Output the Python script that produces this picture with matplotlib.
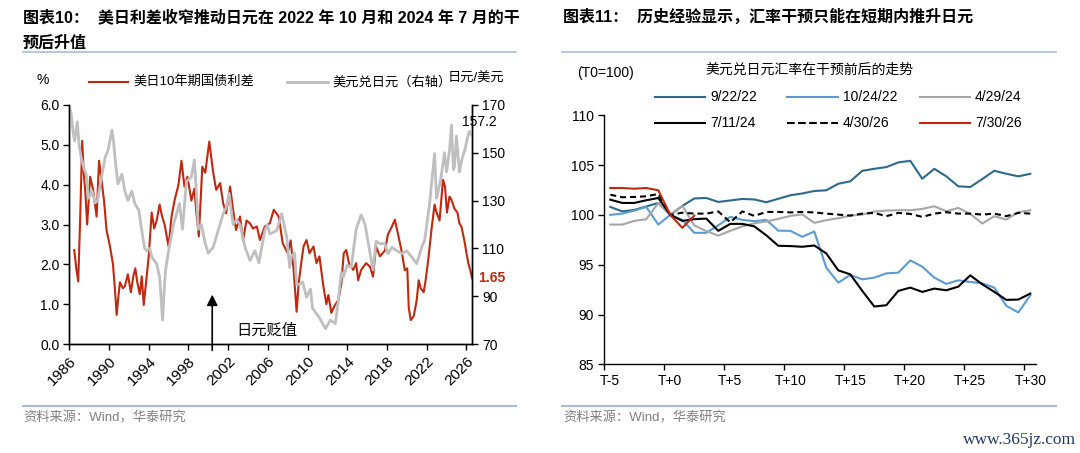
import numpy as np
import matplotlib
matplotlib.use('Agg')
import matplotlib.pyplot as plt
from matplotlib.lines import Line2D

plt.rcParams['font.family'] = ['Liberation Sans', 'Noto Sans CJK SC', 'DejaVu Sans']
plt.rcParams['axes.unicode_minus'] = False

# ---- left chart: US-JP 10y spread (%) and USDJPY (right axis)
spread_years = [1986.5, 1986.7, 1986.9, 1987.1, 1987.3, 1987.45, 1987.6, 1987.8, 1988.1, 1988.4,
                1988.75, 1989.0, 1989.25, 1989.5, 1989.75, 1990.1, 1990.4, 1990.6, 1990.77, 1990.95,
                1991.1, 1991.4, 1991.6, 1991.9, 1992.2, 1992.45, 1992.65, 1992.85, 1993.1, 1993.3,
                1993.5, 1993.75, 1994.0, 1994.3, 1994.55, 1994.8, 1995.1, 1995.35, 1995.6, 1996.0,
                1996.3, 1996.6, 1997.0, 1997.3, 1997.6, 1997.9, 1998.3, 1998.6, 1998.8, 1999.05,
                1999.4, 1999.7, 2000.1, 2000.3, 2000.5, 2000.8, 2001.2, 2001.5, 2001.8, 2002.2,
                2002.5, 2002.8, 2003.2, 2003.5, 2003.85, 2004.2, 2004.5, 2004.9, 2005.2, 2005.7,
                2006.2, 2006.6, 2007.1, 2007.5, 2008.0, 2008.3, 2008.6, 2008.9, 2009.1, 2009.4,
                2009.6, 2009.9, 2010.2, 2010.6, 2010.9, 2011.2, 2011.6, 2011.9, 2012.1, 2012.4,
                2012.7, 2013.1, 2013.4, 2013.65, 2013.9, 2014.2, 2014.6, 2014.9, 2015.1, 2015.4,
                2015.9, 2016.3, 2016.6, 2016.9, 2017.3, 2017.8, 2018.1, 2018.5, 2018.8, 2019.1,
                2019.5, 2019.8, 2020.05, 2020.2, 2020.4, 2020.7, 2021.0, 2021.2, 2021.4, 2021.7,
                2021.9, 2022.2, 2022.5, 2022.8, 2023.0, 2023.3, 2023.65, 2023.85, 2024.05, 2024.3,
                2024.5, 2024.8, 2025.1, 2025.3, 2025.5, 2025.8, 2026.0, 2026.2, 2026.4, 2026.58]
spread_vals = [2.36, 1.9, 1.57, 3.2, 5.1, 4.3, 3.87, 3.0, 4.2, 3.87,
               3.2, 4.6, 4.1, 3.6, 2.86, 2.45, 2.0, 1.36, 0.73, 1.2,
               1.55, 1.4, 1.45, 1.75, 1.3, 1.7, 1.9, 1.55, 1.25, 1.7,
               0.98, 1.6, 2.2, 3.3, 2.9, 3.1, 3.5, 3.2, 3.0, 2.45,
               3.2, 3.6, 4.0, 4.6, 3.95, 4.2, 3.6, 3.9, 3.3, 2.7,
               4.45, 4.3, 5.08, 4.7, 4.3, 3.87, 4.04, 3.53, 3.28, 3.95,
               3.37, 2.86, 3.2, 2.6, 3.1, 3.03, 2.9, 2.95, 2.61, 2.95,
               3.03, 3.37, 3.2, 2.53, 2.28, 2.6, 1.86, 0.81, 1.5, 2.1,
               2.45, 2.61, 2.28, 2.45, 2.03, 2.2, 1.44, 1.0, 1.23, 0.78,
               0.95, 1.1, 1.5, 2.28, 2.36, 2.0, 1.86, 2.03, 1.6, 1.86,
               2.03, 1.94, 1.69, 2.45, 2.2, 2.35, 2.75, 2.95, 3.12, 2.78,
               2.3, 1.85, 1.9, 0.9, 0.6, 0.7, 1.1, 1.6, 1.4, 1.3,
               1.6, 2.2, 2.9, 3.5, 3.3, 3.1, 4.12, 3.95, 3.3, 3.7,
               3.62, 3.4, 3.3, 3.03, 2.95, 2.6, 2.3, 2.03, 1.85, 1.65]

usdjpy_years = [1986.0, 1986.2, 1986.4, 1986.55, 1986.8, 1987.0, 1987.2, 1987.5, 1987.7, 1987.95,
                1988.3, 1988.6, 1988.85, 1989.0, 1989.3, 1989.6, 1989.9, 1990.3, 1990.45, 1990.6,
                1990.9, 1991.3, 1991.6, 1991.9, 1992.3, 1992.6, 1993.0, 1993.3, 1993.6, 1993.8,
                1994.1, 1994.3, 1994.8, 1995.1, 1995.3, 1995.4, 1995.55, 1995.7, 1996.0, 1996.5,
                1997.1, 1997.4, 1997.8, 1998.3, 1998.6, 1998.8, 1999.0, 1999.3, 1999.7, 2000.0,
                2000.5, 2001.0, 2001.5, 2001.8, 2002.1, 2002.5, 2002.85, 2003.2, 2003.7, 2004.2,
                2004.7, 2005.1, 2005.7, 2005.95, 2006.2, 2006.9, 2007.4, 2007.9, 2008.2, 2008.4,
                2008.7, 2008.9, 2009.2, 2009.5, 2009.9, 2010.3, 2010.5, 2011.2, 2011.8, 2012.3,
                2012.8, 2013.1, 2013.4, 2013.6, 2014.0, 2014.4, 2014.9, 2015.4, 2015.8, 2016.3,
                2016.6, 2016.9, 2017.3, 2017.8, 2018.1, 2018.5, 2019.0, 2019.5, 2020.0, 2020.5,
                2021.0, 2021.5, 2021.8, 2022.3, 2022.8, 2022.95, 2023.0, 2023.4, 2023.8, 2024.0,
                2024.3, 2024.5, 2024.7, 2024.8, 2025.0, 2025.3, 2025.6, 2025.9, 2026.1, 2026.3,
                2026.58]
usdjpy_vals = [170, 166, 158, 155, 163, 153, 148, 143, 141, 131,
               134, 129, 130, 134, 141, 148, 151, 159.5, 155, 148,
               137, 141, 134, 130, 134, 128.7, 126, 117.5, 110, 109,
               110, 106.4, 103.6, 98, 86, 80, 92, 101, 109, 120,
               128.7, 118, 138, 140, 147, 134, 118, 120, 112, 108,
               110.5, 117.5, 124.5, 127, 133, 120, 122, 120, 110.5, 105,
               109, 104, 117.5, 120, 116, 117.5, 124.5, 114.8, 102, 107,
               108, 95, 95, 96, 89.6, 93, 85, 81, 76.4, 80,
               78.5, 88, 100, 98, 103, 102, 118, 124, 120, 107.8,
               101, 113, 112, 112, 107.8, 110.5, 109, 107.8, 109, 106.4,
               103.6, 110.5, 113.4, 128.7, 149.7, 135, 131, 138.5, 150, 142,
               151, 161.6, 143, 144, 157, 142, 148, 152, 156, 159,
               157.2]

spread_last = 1.65
usdjpy_last = 157.2
year_ticks = list(range(1986, 2027, 4))

# ---- right chart: USDJPY around intervention dates (T0=100)
days = list(range(-5, 31))
day_ticks = [-5, 0, 5, 10, 15, 20, 25, 30]
day_labels = ['T-5', 'T+0', 'T+5', 'T+10', 'T+15', 'T+20', 'T+25', 'T+30']

s_220922 = [100.8, 100.35, 100.5, 100.85, 101.2, 100.0, 100.9, 101.65, 101.7, 101.3,
            101.45, 101.6, 101.55, 101.27, 101.62, 101.97, 102.15, 102.4, 102.47, 103.13,
            103.37, 104.43, 104.63, 104.8, 105.27, 105.43, 103.63, 104.63, 103.87, 102.87,
            102.8, 103.6, 104.43, 104.13, 103.87, 104.13]
s_221024 = [100.0, 100.13, 100.43, 100.8, 99.03, 100.0, 99.5, 98.2, 98.2, 98.95,
            99.8, 99.5, 99.37, 99.5, 98.42, 98.4, 97.8, 98.33, 94.7, 93.2,
            93.97, 93.53, 93.7, 94.13, 94.2, 95.43, 94.8, 93.7, 93.07, 93.43,
            93.27, 93.13, 92.7, 90.87, 90.2, 91.93]
s_240429 = [99.03, 99.03, 99.4, 99.57, 101.2, 100.0, 100.9, 98.95, 98.37, 97.92,
            98.4, 98.85, 99.15, 99.35, 99.6, 99.9, 100.05, 99.2, 99.47, 99.67,
            99.93, 100.03, 100.33, 100.43, 100.47, 100.47, 100.6, 100.87, 100.37, 100.7,
            100.1, 99.13, 99.87, 99.53, 100.27, 100.47]
s_240711 = [101.53, 101.2, 101.2, 101.47, 101.7, 100.0, 99.4, 99.57, 99.63, 98.4,
            99.1, 99.1, 98.85, 97.95, 96.9, 96.87, 96.8, 96.93, 96.13, 94.43,
            94.03, 92.37, 90.8, 90.93, 92.37, 92.7, 92.27, 92.6, 92.43, 92.8,
            93.93, 93.03, 92.27, 91.47, 91.5, 92.1]
s_260430 = [102.03, 101.77, 101.8, 101.87, 102.1, 100.0, 100.22, 100.13, 100.13, 100.35,
            99.25, 100.35, 99.9, 100.3, 100.3, 100.25, 100.3, 100.25, 100.13, 100.03,
            99.93, 100.13, 100.2, 99.87, 100.2, 100.1, 99.8, 100.13, 100.27, 100.13,
            100.13, 100.03, 100.13, 99.87, 100.2, 100.13]
s_260730 = [102.7, 102.7, 102.63, 102.7, 102.47, 100.0, 98.7, 99.93]

series_labels = ['9/22/22', '10/24/22', '4/29/24', '7/11/24', '4/30/26', '7/30/26']

W, H = 1080, 453
fig = plt.figure(figsize=(W / 100, H / 100), dpi=100)


def fx(px):
    return px / W


def fy(py):
    return 1 - py / H


red = '#C0280F'
grey = '#BFBFBF'
sep_col = '#A9BCD6'

# ================= left chart =================
ax = fig.add_axes([fx(69.3), fy(344), (472.3 - 69.3) / W, (344 - 105) / H])
ax2 = ax.twinx()

ax.plot(spread_years, spread_vals, color=red, lw=1.5, label='美日10年期国债利差')
ax2.plot(usdjpy_years, usdjpy_vals, color=grey, lw=2.0, label='美元兑日元（右轴）')

ax.set_xlim(1986, 2026.6)
ax.set_ylim(0, 6)
ax2.set_ylim(70, 170)
ax.set_yticks(np.arange(0, 6.1, 1))
ax.set_yticklabels(['%.1f' % v for v in np.arange(0, 6.1, 1)])
ax2.set_yticks(range(70, 171, 20))
ax.set_xticks(year_ticks)
ax.set_xticklabels([str(y) for y in year_ticks], rotation=45, ha='right',
                   rotation_mode='anchor')
for a in (ax, ax2):
    a.spines['top'].set_visible(False)
    for s in a.spines.values():
        s.set_linewidth(1.0)
    a.tick_params(direction='out', length=4, width=1, labelsize=10, pad=3)
ax.tick_params(axis='x', labelsize=11)

ax.annotate('', xy=(2000.4, 1.31), xytext=(2000.4, -0.23),
            arrowprops=dict(arrowstyle='-|>', color='black', lw=1.2, mutation_scale=16),
            annotation_clip=False)
ax.text(2005.9, 0.33, '日元贬值', ha='center', va='center', fontsize=11)
ax.text(2027.15, spread_last, '%.2f' % spread_last, color=red, fontsize=10,
        fontweight='bold', ha='left', va='center', clip_on=False)
ax2.text(2027.3, 163, '%.1f' % usdjpy_last, fontsize=10, ha='center', va='center',
         clip_on=False)

# legend + units
fig.text(fx(43), fy(80), '%', fontsize=10, ha='center', va='center')
fig.text(fx(476), fy(78), '日元/美元', fontsize=9.5, ha='center', va='center')
left_leg = [(ax.lines[0], 89, 128, 133), (ax2.lines[0], 287, 328, 332)]
for ln, x0, x1, xt in left_leg:
    fig.add_artist(Line2D([fx(x0), fx(x1)], [fy(82), fy(82)], color=ln.get_color(),
                          lw=ln.get_linewidth()))
    fig.text(fx(xt), fy(82), ln.get_label(), fontsize=9.5, ha='left', va='center')

# ================= right chart =================
ax3 = fig.add_axes([fx(604.3), fy(364.3), 432 / W, (364.3 - 115.3) / H])
styles = [
    (s_220922, '#2C6A8C', '-'),
    (s_221024, '#5B9BD5', '-'),
    (s_240429, '#A6A6A6', '-'),
    (s_240711, '#000000', '-'),
    (s_260430, '#000000', (0, (2.9, 1.9))),
    (s_260730, '#C0280F', '-'),
]
lines = []
for (vals, col, ls), lab in zip(styles, series_labels):
    ln, = ax3.plot(days[:len(vals)], vals, color=col, ls=ls, lw=1.5, label=lab)
    lines.append(ln)

ax3.set_xlim(-5.5, 30.5)
ax3.set_ylim(85, 110)
ax3.set_yticks(range(85, 111, 5))
ax3.set_xticks(day_ticks)
ax3.set_xticklabels(day_labels)
ax3.set_xticks(np.arange(-5.5, 30, 5), minor=True)
ax3.tick_params(axis='x', which='major', length=0, pad=7, labelsize=10)
ax3.tick_params(axis='x', which='minor', direction='out', length=4, width=1)
ax3.tick_params(axis='y', direction='out', length=4, width=1, labelsize=10)
for side in ('top', 'right'):
    ax3.spines[side].set_visible(False)
for side in ('left', 'bottom'):
    ax3.spines[side].set_linewidth(1.0)

fig.text(fx(605), fy(73), '(T0=100)', fontsize=10, ha='center', va='center')
fig.text(fx(810), fy(70), '美元兑日元汇率在干预前后的走势', fontsize=10,
         ha='center', va='center')
col_x = [(655, 705, 710), (787, 838, 843), (920, 970, 975)]
row_y = [97, 123]
for i, ln in enumerate(lines):
    x0, x1, xt = col_x[i % 3]
    yy = row_y[i // 3]
    fig.add_artist(Line2D([fx(x0), fx(x1)], [fy(yy), fy(yy)], color=ln.get_color(),
                          ls=ln.get_linestyle(), lw=ln.get_linewidth()))
    fig.text(fx(xt), fy(yy), ln.get_label(), fontsize=10, ha='left', va='center')

# ================= titles, separators, footers =================
fig.text(fx(23), fy(17), '图表10：  美日利差收窄推动日元在 2022 年 10 月和 2024 年 7 月的干',
         fontsize=11.5, fontweight='bold', ha='left', va='center')
fig.text(fx(23), fy(43), '预后升值', fontsize=11.5, fontweight='bold', ha='left', va='center')
fig.text(fx(563), fy(17), '图表11：  历史经验显示，汇率干预只能在短期内推升日元',
         fontsize=11.5, fontweight='bold', ha='left', va='center')

for x0, x1 in ((23, 516), (562, 1056)):
    fig.add_artist(Line2D([fx(x0), fx(x1)], [fy(52.3), fy(52.3)], color=sep_col, lw=1.2))
    fig.add_artist(Line2D([fx(x0), fx(x1)], [fy(405.7), fy(405.7)], color=sep_col, lw=1.5))

fig.text(fx(23), fy(418), '资料来源：Wind，华泰研究', fontsize=9.5, color='#808080',
         ha='left', va='center')
fig.text(fx(563), fy(418), '资料来源：Wind，华泰研究', fontsize=9.5, color='#808080',
         ha='left', va='center')
fig.text(fx(1076), fy(440), 'www.365jz.com', fontsize=12.5, color='#1F3A6B',
         family='Liberation Serif', ha='right', va='center')

fig.savefig('out.png', dpi=100)
